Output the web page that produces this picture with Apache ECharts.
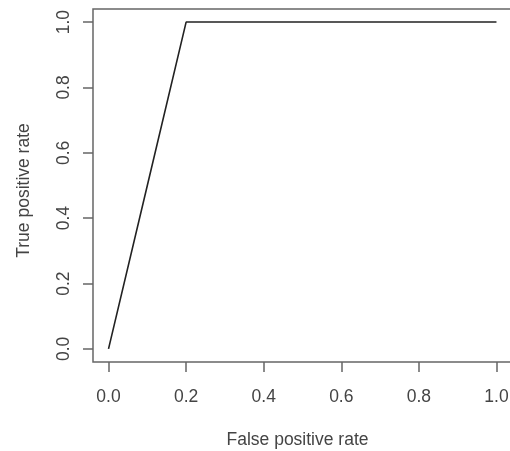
<!DOCTYPE html>
<html>
<head>
<meta charset="utf-8">
<script src="https://cdn.jsdelivr.net/npm/echarts@6/dist/echarts.min.js"></script>
<style>
  html, body { margin: 0; padding: 0; background: #fff; }
  #chart { width: 510px; height: 451px; }
</style>
</head>
<body>
<div id="chart"></div>
<script>
// ROC curve points: false positive rate vs true positive rate
const fpr = [0.0, 0.1, 0.2, 1.0];
const tpr = [0.0, 0.5, 1.0, 1.0];
const tickValues = [0.0, 0.2, 0.4, 0.6, 0.8, 1.0];

const textColor = '#444';
const boxColor = '#666';
const font = '"Liberation Sans", Arial, sans-serif';

// plot frame spans 4% beyond the data range on each side
const framePad = 0.04;
// pixels per data unit and tick length, used to leave room for the tick marks
const pxPerUnitX = 388, pxPerUnitY = 327, tickLen = 10;
const xMin = -framePad - tickLen / pxPerUnitX;
const yMin = -framePad - tickLen / pxPerUnitY;
const frameMax = 1 + framePad;

const chart = echarts.init(document.getElementById('chart'));
chart.setOption({
  animation: false,
  grid: {
    left: 83, top: 9,
    width: Math.round((frameMax - xMin) * pxPerUnitX),
    height: Math.round((frameMax - yMin) * pxPerUnitY),
    outerBoundsMode: 'none', containLabel: false
  },
  xAxis: {
    type: 'value', min: xMin, max: frameMax,
    name: 'False positive rate', nameLocation: 'middle', nameGap: 59,
    nameTextStyle: { color: textColor, fontSize: 17.5, fontFamily: font },
    splitLine: { show: false },
    axisLine: { show: false, onZero: false },
    axisTick: { show: true, inside: true, length: tickLen, customValues: tickValues,
      lineStyle: { color: boxColor, width: 1.5 } },
    axisLabel: {
      customValues: tickValues, margin: 16, color: textColor, fontSize: 17.5, fontFamily: font,
      formatter: v => v.toFixed(1)
    }
  },
  yAxis: {
    type: 'value', min: yMin, max: frameMax,
    name: 'True positive rate', nameLocation: 'middle', nameGap: 50, nameRotate: 90,
    nameTextStyle: { color: textColor, fontSize: 17.5, fontFamily: font },
    splitLine: { show: false },
    axisLine: { show: false, onZero: false },
    axisTick: { show: true, inside: true, length: tickLen, customValues: tickValues,
      lineStyle: { color: boxColor, width: 1.5 } },
    axisLabel: {
      customValues: tickValues, margin: 10, rotate: 90, color: textColor, fontSize: 17.5, fontFamily: font,
      formatter: v => v.toFixed(1)
    }
  },
  series: [{
    type: 'line',
    data: fpr.map((x, i) => [x, tpr[i]]),
    showSymbol: false,
    lineStyle: { color: '#222', width: 1.6 },
    // the box around the plotting region
    markArea: {
      silent: true,
      itemStyle: { color: 'rgba(0,0,0,0)', borderColor: boxColor, borderWidth: 1.5 },
      data: [[{ coord: [-framePad, -framePad] }, { coord: [frameMax, frameMax] }]]
    }
  }]
});
</script>
</body>
</html>
